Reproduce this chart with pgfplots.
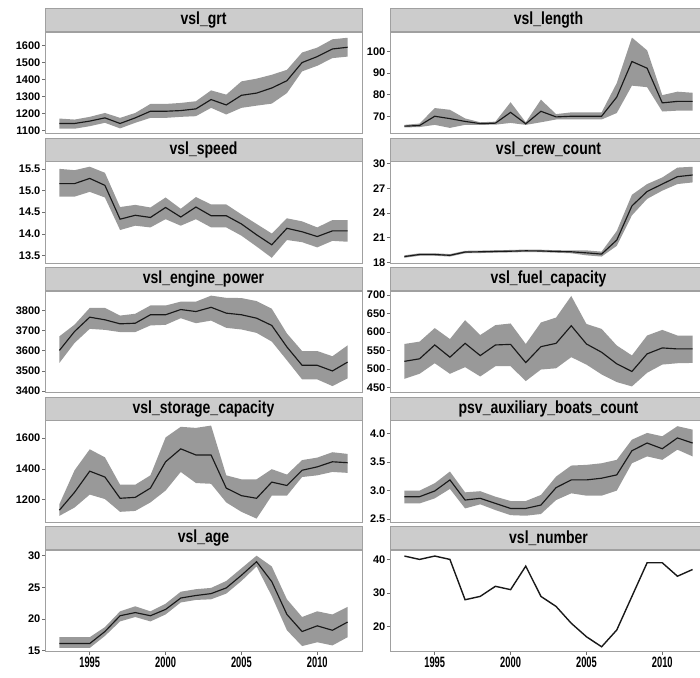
\documentclass[border=0pt]{standalone}
\usepackage{fontspec}
\setmainfont{Liberation Sans}
\usepackage{graphicx}
\usepackage{pgfplots}
\usepackage{pgfplotstable}
\usepgfplotslibrary{fillbetween}
\pgfplotsset{compat=1.18}

\definecolor{stripcol}{RGB}{204,204,204}
\definecolor{bordercol}{RGB}{160,160,160}
\definecolor{tickcol}{RGB}{110,110,110}
\definecolor{ribboncol}{RGB}{153,153,153}
\definecolor{linecol}{RGB}{25,25,25}

\pgfplotstableread{
year m lo hi
1993 1141 1110 1170
1994 1141 1110 1164
1995 1155 1125 1180
1996 1174 1145 1203
1997 1141 1112 1174
1998 1174 1145 1203
1999 1213 1174 1256
2000 1213 1174 1256
2001 1217 1180 1262
2002 1227 1184 1272
2003 1282 1233 1336
2004 1250 1194 1311
2005 1307 1233 1389
2006 1320 1246 1405
2007 1350 1258 1428
2008 1393 1320 1457
2009 1500 1448 1559
2010 1535 1481 1588
2011 1580 1526 1637
2012 1590 1535 1646
}\tgrt

\pgfplotstableread{
year m lo hi
1993 65.4 64.8 66.0
1994 65.7 65.0 66.6
1995 70.0 66.0 73.8
1996 68.9 64.6 73.0
1997 67.6 66.0 69.0
1998 66.6 66.0 67.2
1999 66.8 66.1 67.5
2000 71.8 66.9 76.5
2001 66.5 66.0 67.2
2002 72.3 67.2 77.7
2003 69.7 68.5 71.0
2004 70.0 68.5 71.8
2005 70.0 68.5 71.8
2006 70.0 68.5 71.8
2007 78.9 71.5 85.4
2008 95.4 84.2 106.5
2009 92.3 83.5 100.6
2010 76.2 72.2 79.8
2011 76.9 72.6 81.4
2012 76.9 72.6 80.9
}\tlength

\pgfplotstableread{
year m lo hi
1993 15.16 14.86 15.50
1994 15.16 14.86 15.47
1995 15.28 14.97 15.55
1996 15.12 14.84 15.41
1997 14.34 14.09 14.62
1998 14.43 14.19 14.67
1999 14.38 14.15 14.61
2000 14.61 14.34 14.84
2001 14.39 14.19 14.58
2002 14.62 14.34 14.85
2003 14.42 14.15 14.68
2004 14.42 14.15 14.68
2005 14.23 13.96 14.45
2006 13.98 13.71 14.23
2007 13.75 13.45 14.01
2008 14.13 13.86 14.36
2009 14.05 13.81 14.29
2010 13.94 13.69 14.15
2011 14.07 13.84 14.32
2012 14.07 13.82 14.32
}\tspeed

\pgfplotstableread{
year m lo hi
1993 18.70 18.55 18.85
1994 18.95 18.80 19.10
1995 18.95 18.80 19.10
1996 18.85 18.70 19.00
1997 19.25 19.10 19.40
1998 19.28 19.13 19.43
1999 19.32 19.17 19.47
2000 19.35 19.20 19.50
2001 19.40 19.25 19.55
2002 19.38 19.23 19.53
2003 19.32 19.17 19.47
2004 19.28 19.10 19.46
2005 19.15 18.85 19.45
2006 19.00 18.70 19.30
2007 20.70 20.00 21.80
2008 24.85 23.70 26.20
2009 26.60 25.70 27.50
2010 27.50 26.70 28.30
2011 28.40 27.50 29.50
2012 28.60 27.70 29.60
}\tcrew

\pgfplotstableread{
year m lo hi
1993 3602 3540 3672
1994 3696 3639 3730
1995 3767 3709 3813
1996 3754 3704 3813
1997 3734 3693 3775
1998 3737 3693 3784
1999 3779 3726 3825
2000 3779 3729 3825
2001 3805 3762 3844
2002 3795 3737 3844
2003 3816 3750 3874
2004 3787 3714 3863
2005 3779 3706 3862
2006 3762 3689 3847
2007 3726 3646 3809
2008 3619 3553 3686
2009 3528 3458 3599
2010 3528 3458 3599
2011 3500 3425 3573
2012 3544 3463 3627
}\tengine

\pgfplotstableread{
year m lo hi
1993 520.8 473.6 567.7
1994 527.6 487.1 574.0
1995 565.0 515.6 610.6
1996 532.0 487.1 581.0
1997 569.4 505.0 632.0
1998 536.3 479.9 591.8
1999 565.0 507.5 618.6
2000 566.6 507.5 623.0
2001 517.4 467.4 567.7
2002 560.4 498.6 625.7
2003 569.4 502.0 639.0
2004 616.9 532.0 697.3
2005 567.7 512.0 621.7
2006 545.3 485.4 608.4
2007 514.0 464.7 563.6
2008 493.4 453.0 536.7
2009 540.9 489.8 590.5
2010 557.0 512.0 605.7
2011 554.3 515.6 590.5
2012 554.3 516.5 590.5
}\tfuel

\pgfplotstableread{
year m lo hi
1993 1132 1095 1171
1994 1248 1149 1391
1995 1385 1233 1527
1996 1347 1204 1475
1997 1209 1121 1297
1998 1215 1127 1297
1999 1275 1182 1358
2000 1446 1259 1604
2001 1530 1380 1673
2002 1490 1308 1666
2003 1490 1303 1681
2004 1275 1182 1358
2005 1226 1121 1332
2006 1209 1077 1332
2007 1314 1226 1398
2008 1292 1226 1363
2009 1391 1347 1457
2010 1413 1358 1473
2011 1446 1380 1508
2012 1440 1374 1497
}\tstorage

\pgfplotstableread{
year m lo hi
1993 2.894 2.776 3.000
1994 2.894 2.776 3.000
1995 2.994 2.865 3.130
1996 3.188 3.030 3.335
1997 2.835 2.688 2.970
1998 2.865 2.760 2.990
1999 2.776 2.659 2.894
2000 2.688 2.570 2.818
2001 2.688 2.560 2.818
2002 2.747 2.590 2.924
2003 3.053 2.835 3.247
2004 3.188 2.953 3.440
2005 3.188 2.912 3.452
2006 3.218 2.912 3.480
2007 3.276 3.000 3.540
2008 3.700 3.480 3.894
2009 3.835 3.600 4.012
2010 3.735 3.540 3.953
2011 3.924 3.718 4.130
2012 3.835 3.600 4.070
}\tboats

\pgfplotstableread{
year m lo hi
1993 16.1 15.4 17.1
1994 16.1 15.4 17.1
1995 16.1 15.4 17.1
1996 18.0 17.3 18.7
1997 20.5 19.6 21.2
1998 21.0 20.3 22.0
1999 20.5 19.6 21.2
2000 21.5 20.7 22.4
2001 23.3 22.6 24.3
2002 23.7 23.0 24.7
2003 24.0 23.1 24.9
2004 24.9 24.0 26.0
2005 26.9 26.0 28.0
2006 29.05 28.3 30.0
2007 25.9 23.6 28.3
2008 20.7 18.2 23.1
2009 18.0 15.7 20.3
2010 18.9 16.3 21.2
2011 18.2 15.8 20.7
2012 19.5 17.1 21.9
}\tage

\pgfplotstableread{
year m
1993 41
1994 40
1995 41
1996 40
1997 28
1998 29
1999 32
2000 31
2001 38
2002 29
2003 26
2004 21
2005 17
2006 14
2007 19
2008 29
2009 39
2010 39
2011 35
2012 37
}\tnumber

\newcommand{\xl}[1]{\scalebox{0.62}[1]{#1}}
\newcommand{\strip}[1]{\node[fill=stripcol, draw=bordercol, line width=0.7pt,
  minimum width=317pt, minimum height=23pt, inner sep=0pt, anchor=south,
  font=\bfseries\fontsize{17.5}{20}\selectfont] at (rel axis cs:0.5,1) {\scalebox{0.8}[1]{#1}};}
\newcommand{\series}[1]{%
  \addplot[draw=none, mark=none, name path=hi, forget plot] table[x=year,y=hi]{#1};
  \addplot[draw=none, mark=none, name path=lo, forget plot] table[x=year,y=lo]{#1};
  \addplot[fill=ribboncol, draw=none] fill between[of=hi and lo];
  \addplot[line width=1.15pt, color=linecol, mark=none] table[x=year,y=m]{#1};
}

\pgfplotsset{
  panel/.style={
    scale only axis, width=317pt, height=101.5pt,
    xmin=1992.05, xmax=2012.95,
    clip mode=individual,
    axis line style={draw=bordercol, line width=0.7pt},
    tick align=outside, major tick length=3pt,
    tick style={draw=tickcol, line width=0.7pt},
    tick pos=left,
    xtick=\empty,
    yticklabel style={font=\bfseries\fontsize{11}{12}\selectfont, text=black, inner sep=1.5pt},
    /pgf/number format/assume math mode=true,
    /pgf/number format/1000 sep={},
  },
  bottomrow/.style={
    xtick={1995,2000,2005,2010},
    xticklabels={\xl{1995},\xl{2000},\xl{2005},\xl{2010}},
    xticklabel style={font=\bfseries\fontsize{15}{17}\selectfont, text=black, inner sep=2pt},
  },
  onedec/.style={yticklabel style={/pgf/number format/.cd, fixed, fixed zerofill, precision=1}},
}

\begin{document}
\begin{tikzpicture}
% row 1
\begin{axis}[panel, at={(45pt,645pt)}, anchor=north west, ymin=1082, ymax=1680, ytick={1100,1200,1300,1400,1500,1600}]
\series{\tgrt}
\strip{vsl\_grt}
\end{axis}
\begin{axis}[panel, at={(390pt,645pt)}, anchor=north west, ymin=62, ymax=109.1, ytick={70,80,90,100}]
\series{\tlength}
\strip{vsl\_length}
\end{axis}
% row 2
\begin{axis}[panel, onedec, at={(45pt,515.5pt)}, anchor=north west, ymin=13.33, ymax=15.67, ytick={13.5,14,14.5,15,15.5}]
\series{\tspeed}
\strip{vsl\_speed}
\end{axis}
\begin{axis}[panel, at={(390pt,515.5pt)}, anchor=north west, ymin=17.92, ymax=30.24, ytick={18,21,24,27,30}]
\series{\tcrew}
\strip{vsl\_crew\_count}
\end{axis}
% row 3
\begin{axis}[panel, at={(45pt,386pt)}, anchor=north west, ymin=3393, ymax=3897, ytick={3400,3500,3600,3700,3800}]
\series{\tengine}
\strip{vsl\_engine\_power}
\end{axis}
\begin{axis}[panel, at={(390pt,386pt)}, anchor=north west, ymin=436.6, ymax=710.75, ytick={450,500,550,600,650,700}]
\series{\tfuel}
\strip{vsl\_fuel\_capacity}
\end{axis}
% row 4
\begin{axis}[panel, at={(45pt,256.5pt)}, anchor=north west, ymin=1055, ymax=1714, ytick={1200,1400,1600}]
\series{\tstorage}
\strip{vsl\_storage\_capacity}
\end{axis}
\begin{axis}[panel, onedec, at={(390pt,256.5pt)}, anchor=north west, ymin=2.45, ymax=4.23, ytick={2.5,3,3.5,4}]
\series{\tboats}
\strip{psv\_auxiliary\_boats\_count}
\end{axis}
% row 5
\begin{axis}[panel, bottomrow, at={(45pt,127pt)}, anchor=north west, ymin=14.84, ymax=30.9, ytick={15,20,25,30}]
\series{\tage}
\strip{vsl\_age}
\end{axis}
\begin{axis}[panel, bottomrow, at={(390pt,127pt)}, anchor=north west, ymin=12.6, ymax=42.8, ytick={20,30,40}]
\addplot[line width=1.4pt, color=linecol, mark=none] table[x=year,y=m]{\tnumber};
\strip{vsl\_number}
\end{axis}
\pgfresetboundingbox
\path[use as bounding box] (0,0) rectangle (700pt,677pt);
\end{tikzpicture}
\end{document}
